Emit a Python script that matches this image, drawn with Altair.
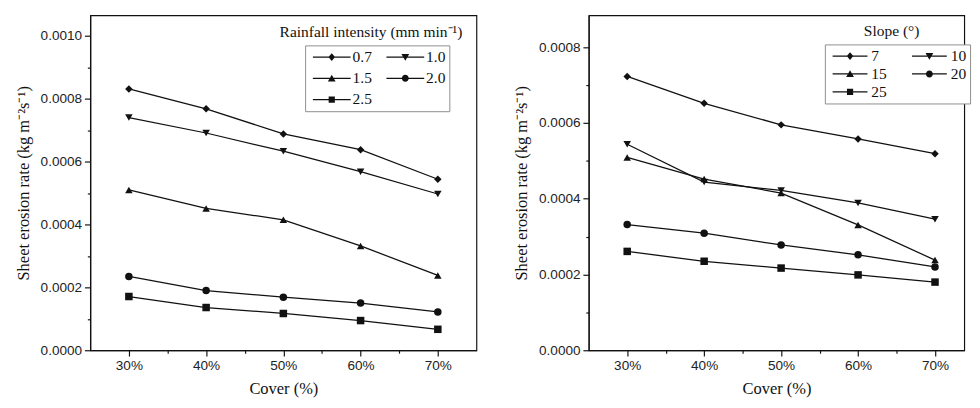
import altair as alt
import pandas as pd

# ---------------- data ----------------
cover = [30, 40, 50, 60, 70]

rain_labels = ["0.7", "1.0", "1.5", "2.0", "2.5"]
rain_07 = [0.000831, 0.000768, 0.000688, 0.000638, 0.000544]
rain_10 = [0.000740, 0.000691, 0.000633, 0.000568, 0.000497]
rain_15 = [0.000510, 0.000451, 0.000415, 0.000332, 0.000238]
rain_20 = [0.000235, 0.000190, 0.000169, 0.000150, 0.000122]
rain_25 = [0.000171, 0.000136, 0.000117, 0.0000945, 0.0000667]

slope_labels = ["7", "10", "15", "20", "25"]
slope_07 = [0.000723, 0.000652, 0.000595, 0.000558, 0.000519]
slope_10 = [0.000544, 0.000444, 0.000422, 0.000389, 0.000346]
slope_15 = [0.000509, 0.000452, 0.000415, 0.000331, 0.000238]
slope_20 = [0.000332, 0.000309, 0.000278, 0.000252, 0.000220]
slope_25 = [0.000261, 0.000235, 0.000217, 0.000199, 0.000180]

x_ticks = [30, 35, 40, 45, 50, 55, 60, 65, 70]
y_ticks_left = [0, 0.0001, 0.0002, 0.0003, 0.0004, 0.0005, 0.0006, 0.0007, 0.0008, 0.0009, 0.0010]
y_ticks_right = [0, 0.0001, 0.0002, 0.0003, 0.0004, 0.0005, 0.0006, 0.0007, 0.0008]

# ---------------- styling ----------------
INK = "#111111"
shapes = ["diamond", "triangle-down", "triangle-up", "circle", "square"]


def legend_paths(length_units):
    # a thin bar with the marker in its middle (unit = sqrt(size)/2 px)
    c = (-1 + length_units) / 2.0
    bar = f"M-1,-0.16H{length_units}V0.16H-1Z"
    return [
        bar + f"M{c},-1L{c+0.85},0L{c},1L{c-0.85},0Z",
        bar + f"M{c-1},-0.8L{c+1},-0.8L{c},0.95Z",
        bar + f"M{c},-0.95L{c+1},0.8L{c-1},0.8Z",
        bar + f"M{c+0.9},0A0.9,0.9 0 1,1 {c-0.9},0A0.9,0.9 0 1,1 {c+0.9},0Z",
        bar + f"M{c-0.8},-0.8H{c+0.8}V0.8H{c-0.8}Z",
    ]


def panel(labels, series, ymax, yticks, width, xmax, legend_x, legend_y, col_pad,
          row_pad, label_offset, sym_len, title_text, title_x, title_y):
    rows = []
    for lab, vals in zip(labels, series):
        for cv, v in zip(cover, vals):
            rows.append({"series": lab, "cover": cv, "rate": v})
    df = pd.DataFrame(rows)
    base = alt.Chart(df)

    x = alt.X(
        "cover:Q",
        scale=alt.Scale(domain=[25, xmax], nice=False, zero=False),
        axis=alt.Axis(
            values=x_ticks,
            labelExpr="datum.value % 10 == 0 ? datum.value + '%' : ''",
            tickSize={"condition": {"test": "datum.value % 10 != 0", "value": 3}, "value": 6},
            title="Cover (%)",
            titlePadding=9,
            labelPadding=3,
        ),
    )
    y = alt.Y(
        "rate:Q",
        scale=alt.Scale(domain=[0, ymax], nice=False, zero=True),
        axis=alt.Axis(
            values=yticks,
            labelExpr="round(datum.value * 10000) % 2 == 0 ? format(datum.value, '.4f') : ''",
            tickSize={"condition": {"test": "round(datum.value * 10000) % 2 == 1", "value": 3}, "value": 6},
            title="Sheet erosion rate (kg m\u207b\u00b2s\u207b\u00b9)",
            titlePadding=8,
            labelPadding=3,
        ),
    )

    lines = base.mark_line(color=INK, strokeWidth=1.3).encode(x=x, y=y, detail="series:N")
    pts = base.mark_point(filled=True, color=INK, size=60, opacity=1).encode(
        x=x, y=y,
        shape=alt.Shape("series:N", scale=alt.Scale(domain=labels, range=shapes), legend=None),
    )
    ghost = base.transform_filter("false").mark_point(
        filled=True, fill=INK, size=64
    ).encode(
        x=x, y=y,
        shape=alt.Shape(
            "series:N",
            scale=alt.Scale(domain=labels, range=legend_paths(sym_len)),
            legend=alt.Legend(
                title=None,
                orient="none",
                direction="horizontal",
                legendX=legend_x,
                legendY=legend_y,
                columns=2,
                symbolSize=64,
                symbolStrokeWidth=0,
                symbolFillColor=INK,
                symbolOpacity=1,
                labelFont="Liberation Serif",
                labelFontSize=16,
                labelColor=INK,
                labelOffset=label_offset,
                columnPadding=col_pad,
                rowPadding=row_pad,
                padding=4,
                strokeColor="#8c8c8c",
                fillColor="white",
            ),
        ),
    )
    ttl = alt.Chart(pd.DataFrame({"t": [title_text]})).mark_text(
        font="Liberation Serif", fontSize=16, color=INK, align="center", baseline="middle"
    ).encode(text="t:N", x=alt.value(title_x), y=alt.value(title_y))

    return (
        alt.layer(lines, pts, ghost, ttl)
        .resolve_scale(shape="independent")
        .properties(width=width, height=346)
    )


left = panel(rain_labels, [rain_07, rain_10, rain_15, rain_20, rain_25],
             0.001065, y_ticks_left, 399, 75, 222, 31, 11, 6, 29, 8.75,
             "Rainfall intensity (mm min\u207b\u00b9)", 290, 17)
right = panel(slope_labels, [slope_07, slope_10, slope_15, slope_20, slope_25],
              0.000884, y_ticks_right, 388, 73.8, 244, 30, 22, 2.5, 28, 8.0,
              "Slope (\u00b0)", 313, 16)

chart = (
    alt.hconcat(left, right, spacing=36)
    .properties(padding={"left": 6, "top": 0, "right": 0, "bottom": 4})
    .configure_view(stroke=INK, strokeWidth=1.2)
    .configure_axis(
        grid=False,
        domainColor=INK,
        domainWidth=1.2,
        tickColor=INK,
        tickWidth=1.2,
        labelFont="Liberation Sans",
        labelFontSize=14,
        labelColor="#222222",
        titleFont="Liberation Serif",
        titleFontSize=17,
        titleFontWeight="normal",
        titleColor=INK,
    )
)

chart.save("out.html", embed_options={"renderer": "svg", "actions": False})
